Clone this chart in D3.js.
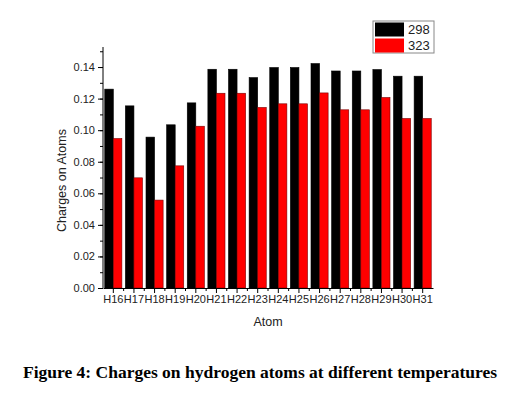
<!DOCTYPE html>
<html>
<head>
<meta charset="utf-8">
<script src="https://cdn.jsdelivr.net/npm/d3@7"></script>
<style>
  body { margin: 0; background: #fff; }
  svg text { font-family: Arial, "Liberation Sans", sans-serif; }
</style>
</head>
<body>
<div id="chart"></div>
<script>
// data
const atoms = ["H16", "H17", "H18", "H19", "H20", "H21", "H22", "H23",
  "H24", "H25", "H26", "H27", "H28", "H29", "H30", "H31"];
const series = ["298", "323"];
const charge298 = [0.126, 0.1154, 0.0956, 0.1034, 0.1173, 0.1386, 0.1386, 0.1333,
  0.1397, 0.1397, 0.1422, 0.1375, 0.1375, 0.1384, 0.1342, 0.1342];
const charge323 = [0.0947, 0.0698, 0.0557, 0.0774, 0.1025, 0.1234, 0.1234, 0.1144,
  0.1167, 0.1167, 0.1236, 0.1129, 0.1129, 0.1207, 0.1074, 0.1074];
const yTicks = [0, 0.02, 0.04, 0.06, 0.08, 0.1, 0.12, 0.14];
const colors = ["#000000", "#ff0000"];

const W = 512, H = 395;
const margin = { top: 47, right: 79, bottom: 107, left: 103 };
const width = W - margin.left - margin.right;
const height = H - margin.top - margin.bottom;

var svg = d3.select("#chart").append("svg")
  .attr("width", W)
  .attr("height", H);

var g = svg.append("g")
  .attr("transform", "translate(" + margin.left + "," + margin.top + ")");

var x = d3.scaleBand().domain(atoms).range([0, width]).paddingInner(0.17).paddingOuter(0.085);
var xs = d3.scaleBand().domain(series).range([0, x.bandwidth()]);
var y = d3.scaleLinear().domain([0, 0.1527]).range([height, 0]);

var rows = atoms.map(function (a, i) {
  return { atom: a, vals: [charge298[i], charge323[i]] };
});

// bars
g.selectAll("g.grp")
  .data(rows)
  .enter()
  .append("g")
  .attr("class", "grp")
  .attr("transform", function (d) { return "translate(" + x(d.atom) + ",0)"; })
  .selectAll("rect")
  .data(function (d) { return d.vals.map(function (v, j) { return { s: series[j], v: v, j: j }; }); })
  .enter()
  .append("rect")
  .attr("x", function (d) { return xs(d.s); })
  .attr("y", function (d) { return y(d.v); })
  .attr("width", xs.bandwidth())
  .attr("height", function (d) { return height - y(d.v); })
  .style("fill", function (d) { return colors[d.j]; })
  .style("stroke", function (d) { return d.j === 1 ? "#7a0000" : "#000"; })
  .style("stroke-width", 0.6);

// Y axis with minor ticks
var minor = d3.range(0, 0.1521, 0.01);
g.append("g")
  .call(d3.axisLeft(y).tickValues(minor).tickSize(3).tickFormat(""))
  .call(function (a) { a.select(".domain").remove(); });
var yAxis = g.append("g")
  .call(d3.axisLeft(y).tickValues(yTicks).tickSize(5).tickPadding(3).tickSizeOuter(0)
    .tickFormat(d3.format(".2f")));
yAxis.select(".domain").attr("d", "M0," + y(0.1527) + "V" + height);
yAxis.selectAll("text").style("font-size", "11px").attr("fill", "#222");

// X axis
var xAxis = g.append("g")
  .attr("transform", "translate(0," + height + ")")
  .call(d3.axisBottom(x).tickSize(5).tickPadding(2).tickSizeOuter(0));
xAxis.selectAll("text").style("font-size", "11px").attr("fill", "#222");
// minor ticks between groups
xAxis.selectAll("line.minor")
  .data(atoms.slice(1))
  .enter()
  .append("line")
  .attr("class", "minor")
  .attr("x1", function (d) { return x(d) - x.step() * x.paddingInner() / 2; })
  .attr("x2", function (d) { return x(d) - x.step() * x.paddingInner() / 2; })
  .attr("y1", 0)
  .attr("y2", 3)
  .attr("stroke", "#000");

// axis titles
svg.append("text")
  .attr("transform", "translate(66," + (margin.top + height / 2 + 13) + ") rotate(-90)")
  .attr("text-anchor", "middle")
  .style("font-size", "12.5px")
  .attr("fill", "#222")
  .text("Charges on Atoms");

svg.append("text")
  .attr("x", margin.left + width / 2)
  .attr("y", 326)
  .attr("text-anchor", "middle")
  .style("font-size", "12.5px")
  .attr("fill", "#222")
  .text("Atom");

// legend
var lg = svg.append("g").attr("transform", "translate(373,21)");
lg.append("rect")
  .attr("width", 61).attr("height", 32)
  .attr("fill", "#fff").attr("stroke", "#888").attr("stroke-width", 1);
series.forEach(function (s, i) {
  lg.append("rect")
    .attr("x", 2).attr("y", 1.5 + i * 16)
    .attr("width", 29).attr("height", 14)
    .attr("fill", colors[i]);
  lg.append("text")
    .attr("x", 35).attr("y", 12.5 + i * 16)
    .style("font-size", "13px")
    .attr("fill", "#222")
    .text(s);
});

// caption
svg.append("text")
  .attr("x", 260)
  .attr("y", 378)
  .attr("text-anchor", "middle")
  .style("font-family", "'Liberation Serif', 'Times New Roman', serif")
  .style("font-weight", "bold")
  .style("font-size", "17.5px")
  .text("Figure 4: Charges on hydrogen atoms at different temperatures");
</script>
</body>
</html>
